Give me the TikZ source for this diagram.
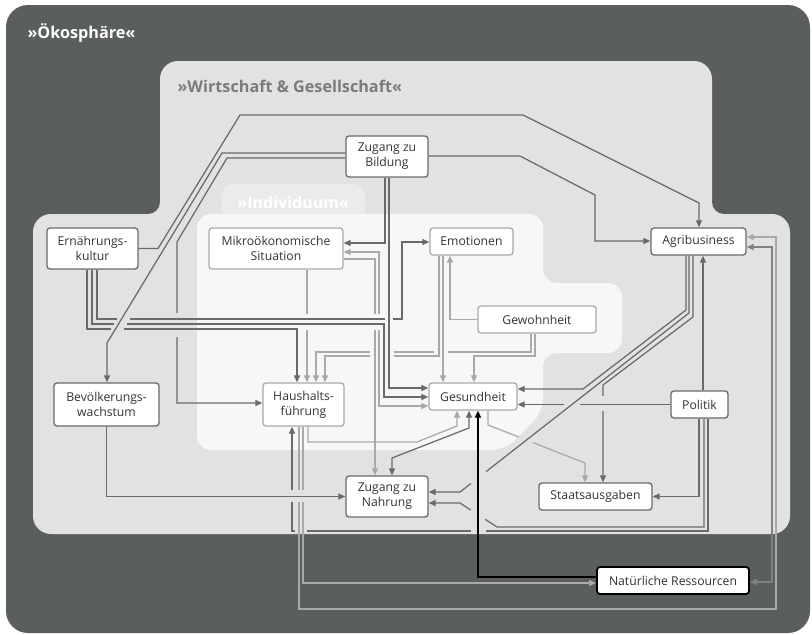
\documentclass[tikz,border=0pt]{standalone}
\usepackage{fontspec}
\setmainfont{Open Sans}
\usetikzlibrary{arrows.meta}
\definecolor{eco}{HTML}{5B5E5F}
\definecolor{wg}{HTML}{E2E2E2}
\definecolor{indtab}{HTML}{EBEBEB}
\definecolor{ind}{HTML}{F7F7F7}
\definecolor{dk}{HTML}{6A6A6A}
\definecolor{md}{HTML}{808080}
\definecolor{lt}{HTML}{A9A9A9}
\definecolor{txt}{HTML}{333333}
\definecolor{wgtxt}{HTML}{7B7B7B}
\begin{document}
\begin{tikzpicture}[x=1pt,y=-1pt,
  box/.style={draw=dk, line width=1.3pt, fill=white, rounded corners=3pt, inner sep=0pt,
    align=center, text=txt, font=\fontsize{12.2}{15}\selectfont},
  lbox/.style={box, draw=lt},
  nbox/.style={box, draw=black, line width=1.8pt},
  tip/.style={-{Triangle[length=7pt,width=6pt]}},
  btip/.style={{Triangle[length=7pt,width=6pt]}-{Triangle[length=7pt,width=6pt]}},
  dka/.style={draw=dk, line width=1.25pt, tip},
  lta/.style={draw=lt, line width=1.25pt, tip},
  dkb/.style={draw=dk, line width=1.25pt, btip},
  mdb/.style={draw=md, line width=1.25pt, btip},
  ltb/.style={draw=lt, line width=1.25pt, btip},
  blk/.style={draw=black, line width=1.6pt, tip},
  title/.style={anchor=west, font=\bfseries\fontsize{16.2}{18}\selectfont},
  gw/.style={fill=wg}, gi/.style={fill=ind},
  dgw/.style={draw=wg, line width=4pt}
]
\useasboundingbox (0,0) rectangle (812,635);
% regions
\fill[eco, rounded corners=22pt] (6,5) rectangle (810,633);
\fill[wg, rounded corners=18pt] (160,61) rectangle (712,300);
\fill[wg, rounded corners=18pt] (33,214) rectangle (790,534);
\fill[wg] (148,202) rectangle (160,214);
\fill[eco] (148,202) circle (12pt);
\fill[wg] (712,202) rectangle (724,214);
\fill[eco] (724,202) circle (12pt);
\fill[indtab, rounded corners=12pt] (222,184) rectangle (365,230);
\fill[ind, rounded corners=14pt] (197,214) -- (543,214) -- (543,283) -- (622,283)
  -- (622,353) -- (543,353) -- (543,412) -- (505,450) -- (197,450) -- cycle;
\node[title, text=white] (teco) at (24,33) {»Ökosphäre«};
\node[title, text=wgtxt] (twg) at (174,86) {»Wirtschaft \& Gesellschaft«};
\node[title, text=white, font=\bfseries\fontsize{16}{18}\selectfont] (tind) at (234,202) {»Individuum«};

% nodes
\node[box, minimum width=82pt, minimum height=41pt] (bild) at (387,156.5) {Zugang zu\\Bildung};
\node[box, minimum width=91pt, minimum height=41pt] (ern) at (92.5,248.5) {Ernährungs-\\kultur};
\node[lbox, minimum width=134pt, minimum height=41pt] (mikro) at (276,248.5) {Mikroökonomische\\Situation};
\node[lbox, minimum width=83pt, minimum height=27pt] (emo) at (471.5,241.5) {Emotionen};
\node[box, minimum width=95pt, minimum height=27pt] (agri) at (698.5,241.5) {Agribusiness};
\node[lbox, minimum width=118pt, minimum height=27pt] (gew) at (537,319.5) {Gewohnheit};
\node[lbox, minimum width=88pt, minimum height=27pt] (ges) at (473,396.5) {Gesundheit};
\node[box, minimum width=57pt, minimum height=27pt] (pol) at (699.5,404.5) {Politik};
\node[box, minimum width=113pt, minimum height=27pt] (staat) at (595.5,496.5) {Staatsausgaben};
\node[nbox, minimum width=152pt, minimum height=27pt] (natres) at (673,580.5) {Natürliche Ressourcen};
\node[box, minimum width=105pt, minimum height=43pt] (bev) at (106.5,404.5) {Bevölkerungs-\\wachstum};
\node[lbox, minimum width=81pt, minimum height=43pt] (haus) at (303.5,404.5) {Haushalts-\\führung};
\node[box, minimum width=82pt, minimum height=41pt] (nahr) at (387,496.5) {Zugang zu\\Nahrung};

% Individuum inner connectors
\draw[lta] (gew.south -| 531,0) -- (531,352) -- (316,352) -- (316,0 |- haus.north);
\fill[gi] (370,350) rectangle (394,354);
\fill[gi] (434,350) rectangle (448,354);
\draw[lta] (emo.south -| 439,0) -- (439,356) -- (325,356) -- (325,0 |- haus.north);
\fill[gi] (370,354) rectangle (394,358);
\draw[lta] (gew.south -| 535,0) -- (535,356) -- (474,356) -- (474,0 |- ges.north);
\draw[lta] (emo.south -| 443,0) -- (443,0 |- ges.north);
\draw[lta] (gew.west) -- (450,0 |- gew.west) -- (450,0 |- emo.south);
\draw[lta] (mikro.east |- 0,259) -- (375,259) -- (375,0 |- nahr.north);
\draw[ltb] (mikro.east |- 0,252) -- (379,252) -- (379,406) -- (ges.west |- 0,406);
\draw[lta] (mikro.south -| 307,0) -- (307,0 |- haus.north);
\draw[dka] (bild.west |- 0,158) -- (227,158) -- (177,242) -- (177,403) -- (haus.west |- 0,403);
% gaps under the Ernaehrungskultur bundle
\fill[gw] (175,313) rectangle (179,337);
\fill[gi] (305,314) rectangle (309,330);
\fill[gi] (373,314) rectangle (381,330);
% Ernaehrungskultur bundle
\draw[dka] (ern.south -| 97,0) -- (97,319) -- (402,319) -- (402,242) -- (emo.west |- 0,242);
\fill[gi] (385,317) rectangle (393,321);
\draw[dka] (ern.south -| 92,0) -- (92,324) -- (384,324) -- (384,397) -- (ges.west |- 0,397);
\draw[dka] (ern.south -| 87,0) -- (87,329) -- (297,329) -- (297,0 |- haus.north);
\fill[gw] (117,317) rectangle (130,321);
\fill[gw] (114,322) rectangle (127,326);
\fill[gw] (111,327) rectangle (124,331);
% Bildung
\draw[dka] (bild.west |- 0,153) -- (222,153) -- (107,343) -- (107,0 |- bev.north);
\draw[dka] (bild.south -| 385,0) -- (385,243) -- (mikro.east |- 0,243);
\draw[dka] (bild.south -| 389,0) -- (389,388) -- (ges.west |- 0,388);
\draw[dka] (ern.east) -- (158,248.5) -- (240,115) -- (523,115) -- (699,203) -- (699,0 |- agri.north);
\draw[dka] (bild.east |- 0,156) -- (520,156) -- (595,195) -- (595,241) -- (agri.west |- 0,241);

% right side
\draw[dka] (agri.south -| 693,0) -- (693,317) -- (603,385) -- (603,0 |- staat.north);
\fill[gw] (601,396) rectangle (605,411);
\draw[dka] (agri.south -| 686,0) -- (686,310) -- (583,389) -- (ges.east |- 0,389);
\draw[dka] (pol.west) -- (ges.east |- pol.west);
\draw[lta] (ges.south -| 488,0) -- (488,425) -- (585,463) -- (585,0 |- staat.north);
\fill[gw] (564,402) rectangle (580,407);
\draw[dgw] (519,437.1) -- (533,442.6);
\draw[dka] (agri.south -| 689,0) -- (689,313) -- (460,492) -- (nahr.east |- 0,492);
\draw[dka] (pol.south -| 699,0) -- (699,496.5) -- (staat.east);
\draw[dka] (pol.north -| 703,0) -- (703,0 |- agri.south);
\draw[dka] (pol.south -| 704,0) -- (704,527) -- (497,527) -- (460,503) -- (nahr.east |- 0,503);
\draw[dka] (pol.south -| 708,0) -- (708,531) -- (292,531) -- (292,0 |- haus.south);
\fill[gw] (295,529) rectangle (307,533);
\fill[gw] (290,490) rectangle (294,502);
% lower loops
\draw[lta] (haus.south -| 299,0) -- (299,609) -- (776,609) -- (776,237) -- (agri.east |- 0,237);
\draw[lta] (haus.south -| 303,0) -- (303,583) -- (natres.west |- 0,583);
\fill[gw] (297,490) rectangle (305,502);
\draw[mdb] (agri.east |- 0,247) -- (772,247) -- (772,582) -- (natres.east |- 0,582);
\draw[dka] (bev.south) -- (bev.south |- nahr.west) -- (nahr.west);
\draw[lta] (haus.south -| 308,0) -- (308,442) -- (417,442) -- (457,426) -- (457,0 |- ges.south);
\draw[dkb] (nahr.north -| 392,0) -- (392,458) -- (469,428) -- (469,0 |- ges.south);
% gaps under the black connector
\fill[gw] (471,529) rectangle (486,533);
\draw[dgw] (471,510.1) -- (485,519.2);
\draw[dgw] (471,483.4) -- (486,471.7);
\draw[blk] (natres.west |- 0,577) -- (478,577) -- (478,0 |- ges.south);
\end{tikzpicture}
\end{document}
